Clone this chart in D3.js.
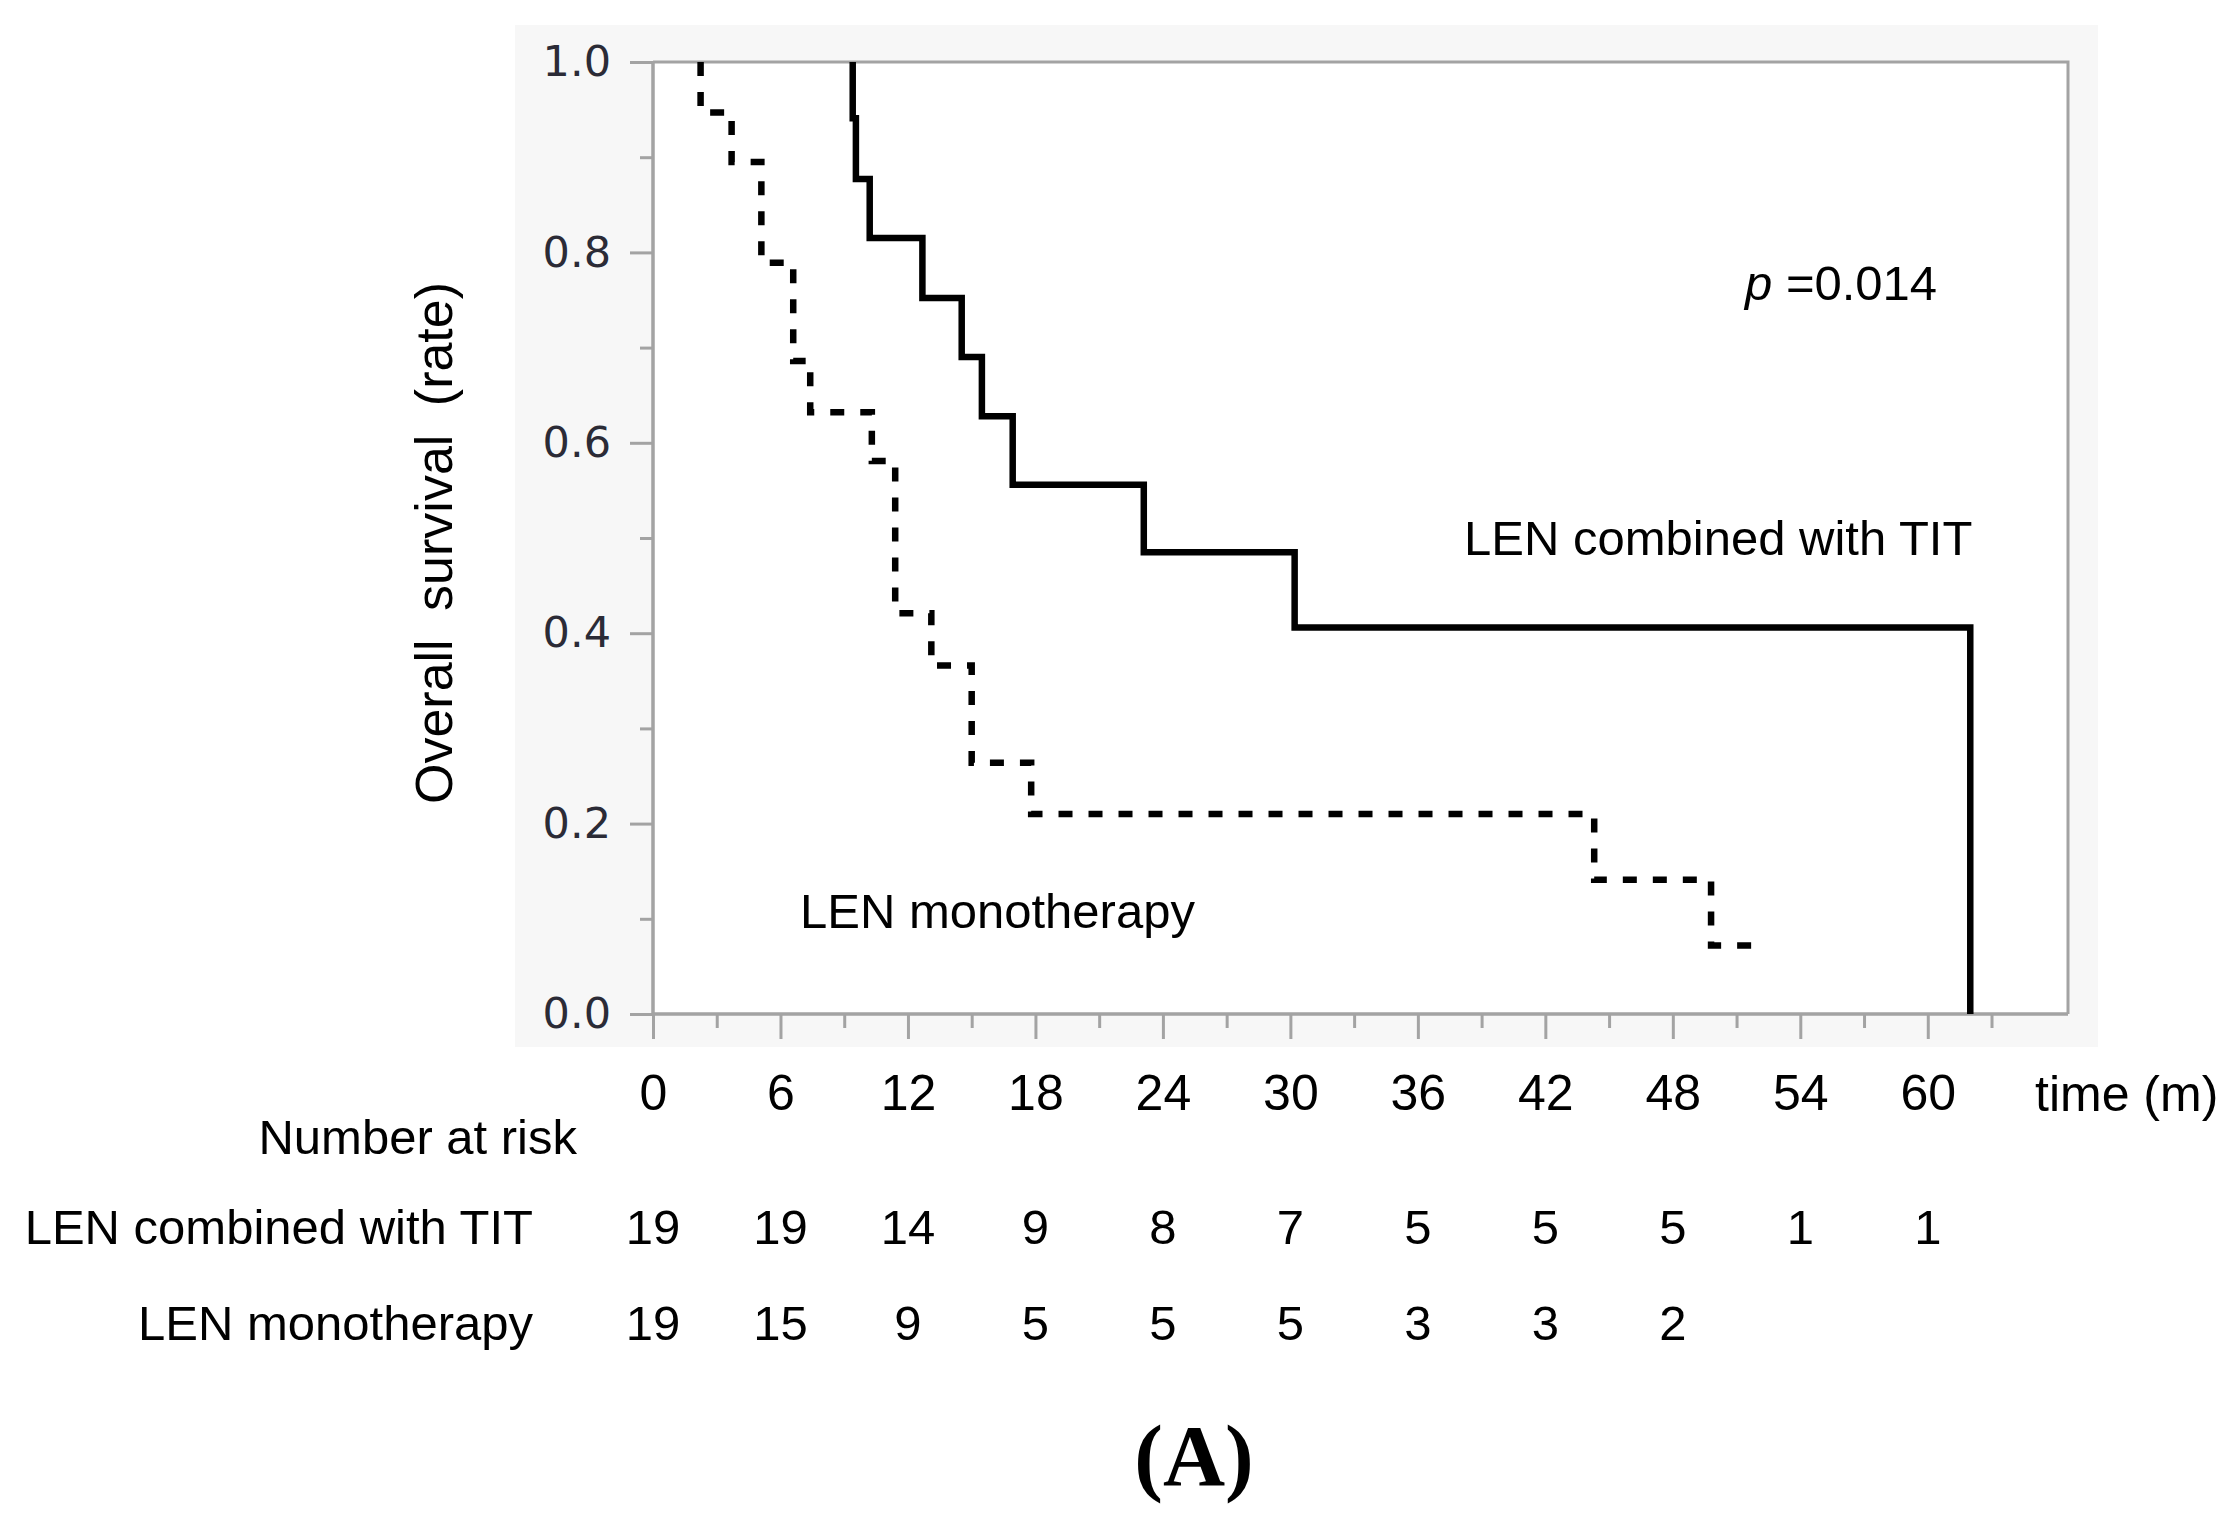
<!DOCTYPE html>
<html>
<head>
<meta charset="utf-8">
<script src="https://cdn.jsdelivr.net/npm/d3@7"></script>
<style>
  body { margin: 0; background: white; }
</style>
</head>
<body>
<main></main>
<script>
// Kaplan-Meier steps (time in months, survival rate)
const comboTime = [9.4, 9.55, 10.2, 12.68, 14.53, 15.48, 16.93, 23.1, 30.2, 62.0]
const comboSurv = [0.941, 0.877, 0.815, 0.752, 0.690, 0.628, 0.556, 0.485, 0.406, 0]
const comboStart = 9.4

const monoTime = [2.24, 3.7, 5.1, 6.6, 7.4, 10.3, 11.4, 13.1, 15.0, 17.8, 44.3, 49.8]
const monoSurv = [0.947, 0.895, 0.789, 0.686, 0.632, 0.581, 0.421, 0.366, 0.264, 0.21, 0.141, 0.072]
const monoStart = 2.24
const monoEnd = 51.9

// number at risk table
const riskTimes = [0, 6, 12, 18, 24, 30, 36, 42, 48, 54, 60]
const riskCombo = [19, 19, 14, 9, 8, 7, 5, 5, 5, 1, 1]
const riskMono = [19, 15, 9, 5, 5, 5, 3, 3, 2]
const rowLabels = ["LEN combined with TIT", "LEN monotherapy"]

const yTicks = [0, 0.2, 0.4, 0.6, 0.8, 1.0]

const svgWidth = 2239
const svgHeight = 1514

const plotLeft = 653
const plotRight = 2068
const plotTop = 62
const plotBottom = 1014

const axisGray = "#a3a3a3"
const sans = "'Liberation Sans', Arial, sans-serif"

let svg = d3.select("main")
    .append("svg")
    .attr("width", svgWidth)
    .attr("height", svgHeight)
    .style("display", "block")
    .style("background-color", "white")

//light gray panel behind the plot
svg.append("rect")
    .attr("x", 515)
    .attr("y", 25)
    .attr("width", 2098 - 515)
    .attr("height", 1047 - 25)
    .attr("fill", "#f7f7f7")

svg.append("rect")
    .attr("x", plotLeft)
    .attr("y", plotTop)
    .attr("width", plotRight - plotLeft)
    .attr("height", plotBottom - plotTop)
    .attr("fill", "white")

//scales
let xScale = d3.scaleLinear()
    .domain([0, 66.6])
    .range([plotLeft, plotRight])

let yScale = d3.scaleLinear()
    .domain([0, 1])
    .range([plotBottom, plotTop])

//frame (top and right)
svg.append("path")
    .attr("d", `M${plotLeft},${plotTop}H${plotRight}V${plotBottom}`)
    .attr("fill", "none")
    .attr("stroke", axisGray)
    .attr("stroke-width", 3)

//y axis, major + minor ticks
let leftMinor = d3.axisLeft(yScale)
    .tickValues(d3.range(0.1, 1, 0.2))
    .tickSize(13)
    .tickFormat("")

let yMinor = svg.append("g")
    .attr("transform", `translate(${plotLeft},0)`)
    .call(leftMinor)

let leftAxis = d3.axisLeft(yScale)
    .tickValues(yTicks)
    .tickSize(23)
    .tickPadding(19)
    .tickFormat(d3.format(".1f"))

let yAxis = svg.append("g")
    .attr("transform", `translate(${plotLeft},0)`)
    .call(leftAxis)

yAxis.selectAll("text")
    .attr("font-family", "'DejaVu Sans', Verdana, sans-serif")
    .attr("font-size", 43)
    .attr("fill", "#2b2b36")

//x axis, major + minor ticks
let bottomMinor = d3.axisBottom(xScale)
    .tickValues(d3.range(3, 67, 6))
    .tickSize(14)
    .tickFormat("")

let xMinor = svg.append("g")
    .attr("transform", `translate(0,${plotBottom})`)
    .call(bottomMinor)

let bottomAxis = d3.axisBottom(xScale)
    .tickValues(riskTimes)
    .tickSize(25)
    .tickPadding(35)
    .tickFormat(d3.format("d"))

let xAxis = svg.append("g")
    .attr("transform", `translate(0,${plotBottom})`)
    .call(bottomAxis)

xAxis.selectAll("text")
    .attr("font-family", sans)
    .attr("font-size", 50)
    .attr("fill", "black")

for (let g of [yMinor, yAxis, xMinor, xAxis]) {
    g.select(".domain").remove()
    g.selectAll("line")
        .attr("stroke", axisGray)
        .attr("stroke-width", 3)
}

//axis lines drawn on top of tick stubs
svg.append("path")
    .attr("d", `M${plotLeft},${plotTop}V${plotBottom}H${plotRight}`)
    .attr("fill", "none")
    .attr("stroke", axisGray)
    .attr("stroke-width", 3.5)

//step paths
function stepPoints(start, times, surv, end) {
    let pts = [[start, 1]]
    times.forEach((t, i) => {
        pts.push([t, i === 0 ? 1 : surv[i - 1]])
        pts.push([t, surv[i]])
    })
    if (end !== undefined) pts.push([end, surv[surv.length - 1]])
    return pts
}

let line = d3.line()
    .x(d => xScale(d[0]))
    .y(d => yScale(d[1]))

svg.append("path")
    .datum(stepPoints(comboStart, comboTime, comboSurv))
    .attr("d", line)
    .attr("fill", "none")
    .attr("stroke", "black")
    .attr("stroke-width", 6.5)
    .attr("stroke-linejoin", "miter")

svg.append("path")
    .datum(stepPoints(monoStart, monoTime, monoSurv, monoEnd))
    .attr("d", line)
    .attr("fill", "none")
    .attr("stroke", "black")
    .attr("stroke-width", 6.5)
    .attr("stroke-dasharray", "14,16")

//annotations inside the plot
let pText = svg.append("text")
    .attr("x", 1745)
    .attr("y", 300)
    .attr("font-family", sans)
    .attr("font-size", 49)
    .attr("fill", "black")

pText.append("tspan")
    .attr("font-style", "italic")
    .text("p")
pText.append("tspan")
    .text(" =0.014")

svg.append("text")
    .attr("x", 1464)
    .attr("y", 555)
    .attr("font-family", sans)
    .attr("font-size", 49)
    .text(rowLabels[0])

svg.append("text")
    .attr("x", 800)
    .attr("y", 928)
    .attr("font-family", sans)
    .attr("font-size", 49)
    .text(rowLabels[1])

//y axis title
svg.append("text")
    .attr("transform", "translate(452,543) rotate(-90)")
    .attr("text-anchor", "middle")
    .attr("font-family", sans)
    .attr("font-size", 52)
    .attr("word-spacing", 14)
    .text("Overall survival (rate)")

//x axis title
svg.append("text")
    .attr("x", 2035)
    .attr("y", 1111)
    .attr("font-family", sans)
    .attr("font-size", 50)
    .text("time (m)")

//number at risk table
svg.append("text")
    .attr("x", 577)
    .attr("y", 1154)
    .attr("text-anchor", "end")
    .attr("font-family", sans)
    .attr("font-size", 49)
    .text("Number at risk")

let rows = [riskCombo, riskMono]
let rowY = [1244, 1340]

rows.forEach((row, r) => {
    svg.append("text")
        .attr("x", 533)
        .attr("y", rowY[r])
        .attr("text-anchor", "end")
        .attr("font-family", sans)
        .attr("font-size", 49)
        .text(rowLabels[r])

    svg.append("g")
        .selectAll("text")
        .data(row)
        .enter()
        .append("text")
        .attr("x", (d, i) => xScale(riskTimes[i]))
        .attr("y", rowY[r])
        .attr("text-anchor", "middle")
        .attr("font-family", sans)
        .attr("font-size", 49)
        .text(d => d)
})

//panel label
svg.append("text")
    .attr("x", 1194)
    .attr("y", 1485)
    .attr("text-anchor", "middle")
    .attr("font-family", "'Liberation Serif', 'Times New Roman', serif")
    .attr("font-weight", "bold")
    .attr("font-size", 86)
    .text("(A)")
</script>
</body>
</html>
